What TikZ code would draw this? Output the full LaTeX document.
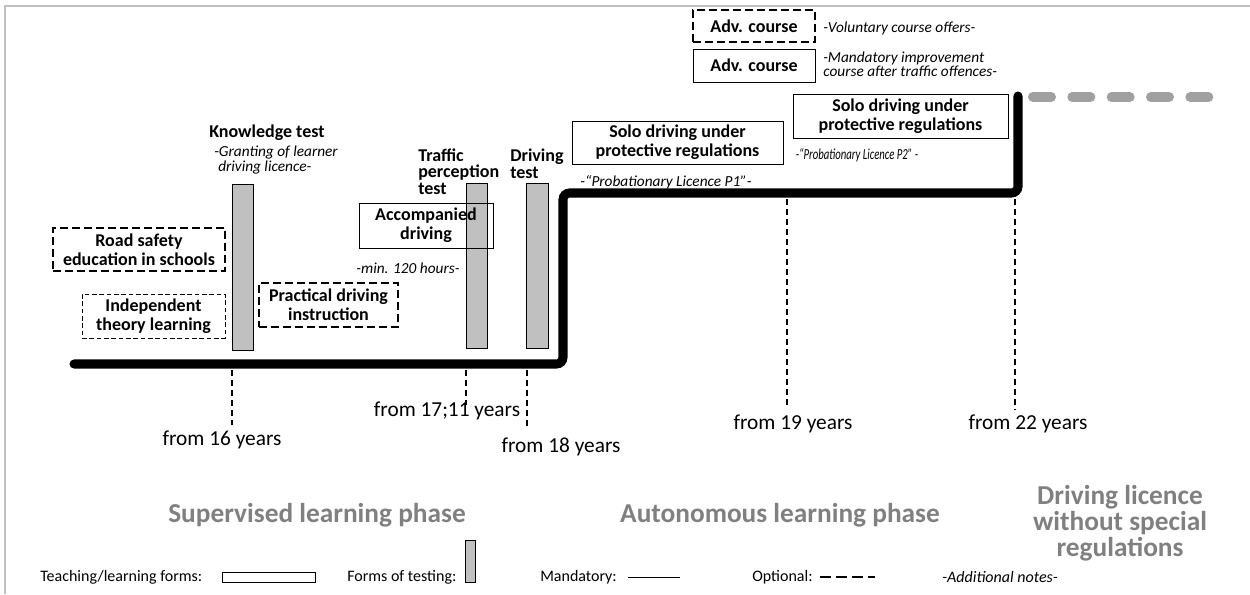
\documentclass[tikz,border=0pt]{standalone}
\usepackage{fontspec}
\setmainfont{Carlito}
\definecolor{barfill}{HTML}{C0C0C0}
\definecolor{phasegray}{HTML}{808080}
\definecolor{framegray}{HTML}{C0C0C0}
\definecolor{contgray}{HTML}{A0A0A0}
\begin{document}
\begin{tikzpicture}[x=0.75pt,y=-0.75pt,
  wh/.style 2 args={minimum width=#1*0.75pt, minimum height=#2*0.75pt},
  box/.style={draw, line width=0.75pt, font=\bfseries\fontsize{13.5}{14.3}\selectfont, align=center, inner sep=0pt},
  optbox/.style={box, line width=1.1pt, dash pattern=on 6pt off 3pt},
  thinopt/.style={box, line width=0.6pt, dash pattern=on 3.5pt off 2pt},
  testbar/.style={draw, fill=barfill, line width=0.75pt, inner sep=0pt},
  head/.style={font=\bfseries\fontsize{13.5}{12.4}\selectfont, align=left, inner sep=0pt},
  note/.style={font=\itshape\fontsize{11.5}{10.5}\selectfont, inner sep=0pt, align=left},
  age/.style={font=\fontsize{16}{18}\selectfont, inner sep=0pt},
  phase/.style={font=\bfseries\fontsize{20.5}{19.5}\selectfont, text=phasegray, align=center, inner sep=0pt},
  legend/.style={font=\fontsize{12}{14}\selectfont, inner sep=0pt, anchor=west},
  tick/.style={line width=1.3pt, dash pattern=on 4.5pt off 3pt},
  mainline/.style={line width=6.8pt, line cap=round, rounded corners=5pt},
]
\useasboundingbox (0,0) rectangle (1250,594);
% frame
\draw[framegray, line width=1.5pt] (5,594) -- (5,6) -- (1250,6);

% test bars
\node[testbar, wh={21}{166}] (kbar) at (242.5,267) {};
\node[testbar, wh={21}{165}] (tbar) at (476.5,265.5) {};
\node[testbar, wh={22}{165}] (dbar) at (537,265.5) {};

% main line
\coordinate (m0) at (74,364);
\coordinate (m1) at (563,364);
\coordinate (m2) at (563,193);
\coordinate (m3) at (1018,193);
\coordinate (m4) at (1018,96);
\draw[mainline] (m0) -- (m1) -- (m2) -- (m3) -- (m4);
% continuation
\coordinate (c0) at (1033,97);
\coordinate (c1) at (1213,97);
\draw[contgray, line width=7.5pt, line cap=round, dash pattern=on 13.5pt off 16pt] (c0) -- (c1);

% boxes
\node[optbox, wh={122}{32}] (adv1) at (754,26) {Adv. course};
\node[box, wh={122}{33}] (adv2) at (754,65.5) {Adv. course};
\node[box, wh={215}{44}] (p2) at (900.5,116) {Solo driving under\\protective regulations};
\node[box, wh={211}{43}] (p1) at (677.5,142.5) {Solo driving under\\protective regulations};
\node[box, wh={134}{45}] (acc) at (426,225.5) {Accompanied\\driving};
\node[optbox, wh={139}{44}] (prac) at (328.5,305) {Practical driving\\instruction};
\node[optbox, wh={172}{43}] (road) at (139,249.5) {Road safety\\education in schools};
\node[thinopt, wh={143}{44}] (indep) at (153.5,316) {Independent\\theory learning};

% headings and notes
\node[head, anchor=west] (kt) at (209,133) {Knowledge test};
\node[note, anchor=west] (kn1) at (214,152) {-Granting of learner};
\node[note, anchor=west] (kn2) at (218,167) {driving licence-};
\node[head, anchor=west] (tp) at (418,171.5) {Traffic\\perception\\test};
\node[head, anchor=west] (dt) at (510,163.5) {Driving\\test};
\node[note, anchor=west] (vol) at (823,28) {-Voluntary course offers-};
\node[note, anchor=west] (man) at (823,64) {-Mandatory improvement\\course after traffic offences-};
\node[note] (n1) at (666,182) {-“Probationary Licence P1”-};
\node[note] (n2) at (857,155) {\scalebox{0.7}[1]{-“Probationary Licence P2” -}};
\node[note] (mh) at (408,268) {-min. 120 hours-};

% age ticks
\coordinate (t1a) at (232,370); \coordinate (t1b) at (232,425);
\coordinate (t2a) at (466,370); \coordinate (t2b) at (466,405);
\coordinate (t3a) at (527,370); \coordinate (t3b) at (527,430);
\coordinate (t4a) at (787,199); \coordinate (t4b) at (787,405);
\coordinate (t5a) at (1015,199); \coordinate (t5b) at (1015,410);
\draw[tick] (t1a) -- (t1b);
\draw[tick] (t2a) -- (t2b);
\draw[tick] (t3a) -- (t3b);
\draw[tick] (t4a) -- (t4b);
\draw[tick] (t5a) -- (t5b);
\node[age] (a16) at (222,440) {from 16 years};
\node[age] (a17) at (447,411) {from 17;11 years};
\node[age] (a18) at (561,447) {from 18 years};
\node[age] (a19) at (793,424) {from 19 years};
\node[age] (a22) at (1028,424) {from 22 years};

% phases
\node[phase] (ph1) at (317,515) {Supervised learning phase};
\node[phase] (ph2) at (780,515) {Autonomous learning phase};
\node[phase] (ph3) at (1120,523) {Driving licence\\without special\\regulations};

% legend
\node[legend] (lg1) at (40,577) {Teaching/learning forms:};
\draw[line width=0.75pt] (222,572) rectangle (315,582);
\node[legend] (lg2) at (347,577) {Forms of testing:};
\draw[line width=0.75pt, fill=barfill] (465,540) rectangle (475,582);
\node[legend] (lg3) at (540,577) {Mandatory:};
\coordinate (lm0) at (628,577); \coordinate (lm1) at (680,577);
\draw[line width=0.75pt] (lm0) -- (lm1);
\node[legend] (lg4) at (752,577) {Optional:};
\coordinate (lo0) at (820,577); \coordinate (lo1) at (875,577);
\draw[line width=0.9pt, dash pattern=on 8pt off 4pt] (lo0) -- (lo1);
\node[legend, font=\itshape\fontsize{12}{14}\selectfont] (lg5) at (942,577) {-Additional notes-};
\end{tikzpicture}
\end{document}
